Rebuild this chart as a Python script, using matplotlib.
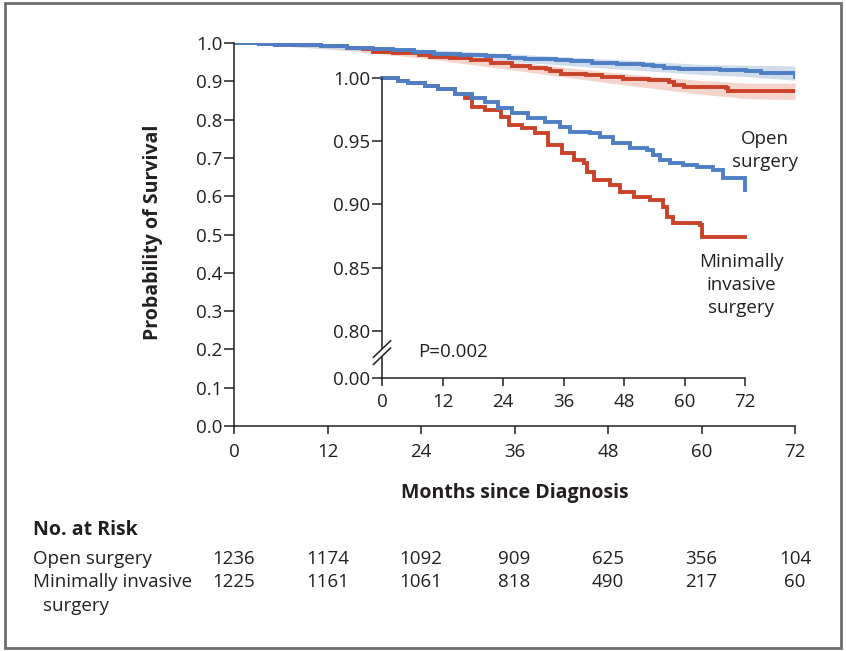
import matplotlib.pyplot as plt
from matplotlib.patches import Rectangle
from matplotlib.transforms import blended_transform_factory

plt.rcParams['font.family'] = ['Open Sans', 'DejaVu Sans']

# Kaplan-Meier steps (months, survival)
open_t = [0, 3.2, 5.2, 8.5, 11.2, 14.5, 17.8, 20.4, 23.1, 25.7, 29.0, 32.3, 35.3,
          37.3, 41.3, 43.3, 45.9, 49.2, 52.5, 53.8, 55.2, 57.1, 59.8, 62.4, 65.7,
          67.7, 72.0, 72.0]
open_s = [1.0, 0.998, 0.996, 0.994, 0.991, 0.987, 0.984, 0.981, 0.976, 0.972, 0.968,
          0.965, 0.9615, 0.9576, 0.9563, 0.9536, 0.9484, 0.9444, 0.943, 0.939, 0.935,
          0.933, 0.931, 0.930, 0.927, 0.921, 0.921, 0.9115]

mis_t = [0, 3.2, 5.2, 8.5, 11.2, 14.5, 16.5, 17.8, 20.4, 23.7, 25.1, 27.7, 30.4,
         33.0, 35.7, 38.0, 40.0, 40.6, 42.0, 45.2, 47.2, 49.9, 53.2, 55.8, 56.5,
         57.8, 63.1, 63.4, 72.0]
mis_s = [1.0, 0.998, 0.996, 0.994, 0.991, 0.987, 0.984, 0.977, 0.9747, 0.9694, 0.9628,
         0.9602, 0.9563, 0.947, 0.9405, 0.935, 0.9326, 0.926, 0.919, 0.9154, 0.910,
         0.9062, 0.9036, 0.8983, 0.890, 0.885, 0.8838, 0.8745, 0.8745]

# 95% confidence bands (approximate)
band_t = [0, 12, 24, 36, 48, 60, 66, 72]
open_lo = [1.0, 0.985, 0.970, 0.951, 0.934, 0.918, 0.912, 0.903]
open_hi = [1.0, 0.995, 0.984, 0.971, 0.958, 0.944, 0.942, 0.940]
mis_lo = [1.0, 0.985, 0.961, 0.929, 0.896, 0.866, 0.855, 0.852]
mis_hi = [1.0, 0.995, 0.977, 0.951, 0.924, 0.902, 0.895, 0.895]

risk_times = [0, 12, 24, 36, 48, 60, 72]
risk_open = [1236, 1174, 1092, 909, 625, 356, 104]
risk_mis = [1225, 1161, 1061, 818, 490, 217, 60]

blue = '#4f7ec4'
red = '#c9432b'
ink = '#231f20'
fs = 13.5

fig = plt.figure(figsize=(8.46, 6.51), dpi=100)
W, H = 846, 651


def style_ticks(a, xpad):
    a.tick_params(axis='y', direction='out', length=7.5, width=1.1, color=ink,
                  labelsize=fs, labelcolor=ink, pad=1)
    a.tick_params(axis='x', direction='out', length=6, width=1.1, color=ink,
                  labelsize=fs, labelcolor=ink, pad=xpad)


# main axes
ax = fig.add_axes([234 / W, 1 - 426 / H, (795 - 234) / W, (426 - 43) / H])
ax.fill_between(band_t, mis_lo, mis_hi, color='#f5d4cb', lw=0)
ax.fill_between(band_t, open_lo, open_hi, color='#c6d6e8', lw=0, alpha=0.85)
ax.step(mis_t, mis_s, where='post', color=red, lw=2.8, solid_joinstyle='miter')
ax.step(open_t, open_s, where='post', color=blue, lw=2.8, solid_joinstyle='miter')
ax.set_xlim(0, 72)
ax.set_ylim(0, 1.0)
ax.set_xticks(range(0, 73, 12))
ax.set_yticks([i / 10 for i in range(11)])
ax.set_yticklabels([f'{i / 10:.1f}' for i in range(11)])
for s in ['top', 'right']:
    ax.spines[s].set_visible(False)
for s in ['left', 'bottom']:
    ax.spines[s].set_color(ink)
    ax.spines[s].set_linewidth(1.1)
style_ticks(ax, 6.5)
ax.set_ylabel('Probability of Survival', fontsize=14, fontweight='bold', color=ink)
ax.set_xlabel('Months since Diagnosis', fontsize=14, fontweight='bold', color=ink)
ax.yaxis.set_label_coords(-71 / 561, 0.506)
ax.xaxis.set_label_coords(0.501, -57 / 383)
ax.patch.set_alpha(0)

# inset axes
y0 = 0.7628
ia = fig.add_axes([382 / W, 1 - 378 / H, (745 - 382) / W, (378 - 78) / H])
ia.patch.set_alpha(0)
ia.step(mis_t, mis_s, where='post', color=red, lw=2.8, solid_joinstyle='miter',
        clip_on=False)
ia.step(open_t, open_s, where='post', color=blue, lw=2.8, solid_joinstyle='miter',
        clip_on=False)
ia.set_xlim(0, 72)
ia.set_ylim(y0, 1.0)
ia.set_xticks(range(0, 73, 12))
ia.set_yticks([y0, 0.80, 0.85, 0.90, 0.95, 1.00])
ia.set_yticklabels(['0.00', '0.80', '0.85', '0.90', '0.95', '1.00'])
for s in ['top', 'right', 'left']:
    ia.spines[s].set_visible(False)
ia.spines['bottom'].set_color(ink)
ia.spines['bottom'].set_linewidth(1.1)
style_ticks(ia, 5)
# broken y axis
ia.plot([0, 0], [y0, 0.7795], color=ink, lw=1.1, clip_on=False)
ia.plot([0, 0], [0.7862, 1.0], color=ink, lw=1.1, clip_on=False)
for yc in [0.7800, 0.7857]:
    ia.plot([-1.7, 1.7], [yc - 0.0065, yc + 0.0065], color=ink, lw=1.1, clip_on=False)

ia.text(76, 0.943, 'Open\nsurgery', ha='center', va='center', fontsize=fs,
        color=ink, linespacing=1.37)
ia.text(71.2, 0.8364, 'Minimally\ninvasive\nsurgery', ha='center', va='center',
        fontsize=fs, color=ink, linespacing=1.37)
ia.text(7.1, 0.7834, 'P=0.002', ha='left', va='center', fontsize=fs, color=ink)

# number at risk table
tr = blended_transform_factory(ax.transData, fig.transFigure)
fig.text(33 / W, 1 - 530 / H, 'No. at Risk', fontsize=14, fontweight='bold',
         color=ink, va='center')
fig.text(33 / W, 1 - 559 / H, 'Open surgery', fontsize=fs, color=ink, va='center')
fig.text(33 / W, 1 - 582 / H, 'Minimally invasive', fontsize=fs, color=ink, va='center')
fig.text(43 / W, 1 - 606 / H, 'surgery', fontsize=fs, color=ink, va='center')
for t, a, b in zip(risk_times, risk_open, risk_mis):
    ax.text(t, 1 - 559 / H, str(a), transform=tr, ha='center', va='center',
            fontsize=fs, color=ink)
    ax.text(t, 1 - 582 / H, str(b), transform=tr, ha='center', va='center',
            fontsize=fs, color=ink)

# frame around the figure
fig.patches.append(Rectangle((5 / W, 3 / H), 836 / W, 645 / H, transform=fig.transFigure,
                             fill=False, edgecolor='#6e6e6e', lw=2))

fig.savefig('out.png', dpi=100)
